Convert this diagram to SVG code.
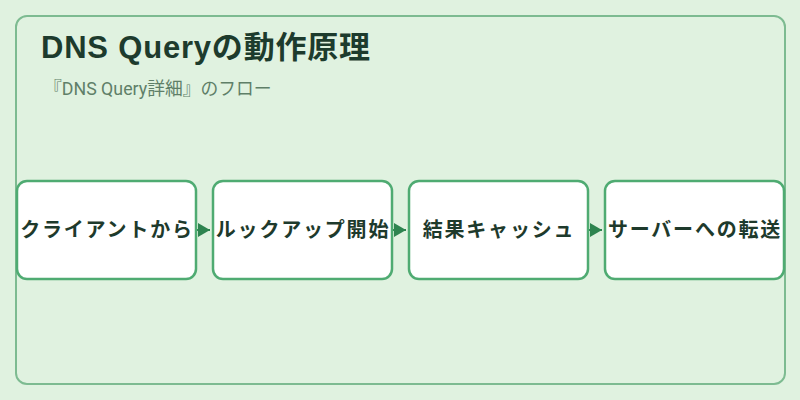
<svg xmlns="http://www.w3.org/2000/svg" width="800" height="400" viewBox="0 0 800 400">
<defs>
<style>
.frame{fill:#e0f2e0;stroke:#7dbb91;stroke-width:2}
.box{fill:#ffffff;stroke:#4fab72;stroke-width:2.5}
.lbl{font-family:"Noto Sans CJK JP","Noto Sans",sans-serif;font-size:20px;font-weight:bold;fill:#1e3a2c;text-anchor:middle;letter-spacing:1.8px}
.title{font-family:"Liberation Sans","Noto Sans CJK JP",sans-serif;font-size:31px;font-weight:bold;fill:#1d3b2d;letter-spacing:0.8px}
.sub{font-family:Roboto,"Noto Sans CJK JP",sans-serif;font-size:17.8px;fill:#5f7f68}
.conn{stroke:#2e8450;stroke-width:2;fill:none}
</style>
<marker id="arr" viewBox="0 0 12 14" refX="12" refY="7" markerWidth="12" markerHeight="14" markerUnits="userSpaceOnUse" orient="auto">
<path d="M0,0 L12,7 L0,14 Z" fill="#2e8450"/>
</marker>
</defs>
<rect x="0" y="0" width="800" height="400" fill="#e0f2e0"/>
<rect class="frame" x="16" y="16" width="769" height="368" rx="11"/>
<text class="title" x="41" y="58">DNS Queryの動作原理</text>
<text class="sub" x="44" y="95">『DNS Query詳細』のフロー</text>
<g id="connectors">
<line class="conn" x1="196" y1="230" x2="210" y2="230" marker-end="url(#arr)"/>
<line class="conn" x1="392" y1="230" x2="406" y2="230" marker-end="url(#arr)"/>
<line class="conn" x1="588" y1="230" x2="602" y2="230" marker-end="url(#arr)"/>
</g>
<g id="node1">
<rect class="box" x="17" y="181" width="179" height="98" rx="10"/>
<text class="lbl" x="107" y="237">クライアントから</text>
</g>
<g id="node2">
<rect class="box" x="213" y="181" width="179" height="98" rx="10"/>
<text class="lbl" x="303" y="237">ルックアップ開始</text>
</g>
<g id="node3">
<rect class="box" x="409" y="181" width="179" height="98" rx="10"/>
<text class="lbl" x="499" y="237">結果キャッシュ</text>
</g>
<g id="node4">
<rect class="box" x="605" y="181" width="179" height="98" rx="10"/>
<text class="lbl" x="695" y="237">サーバーへの転送</text>
</g>
</svg>
